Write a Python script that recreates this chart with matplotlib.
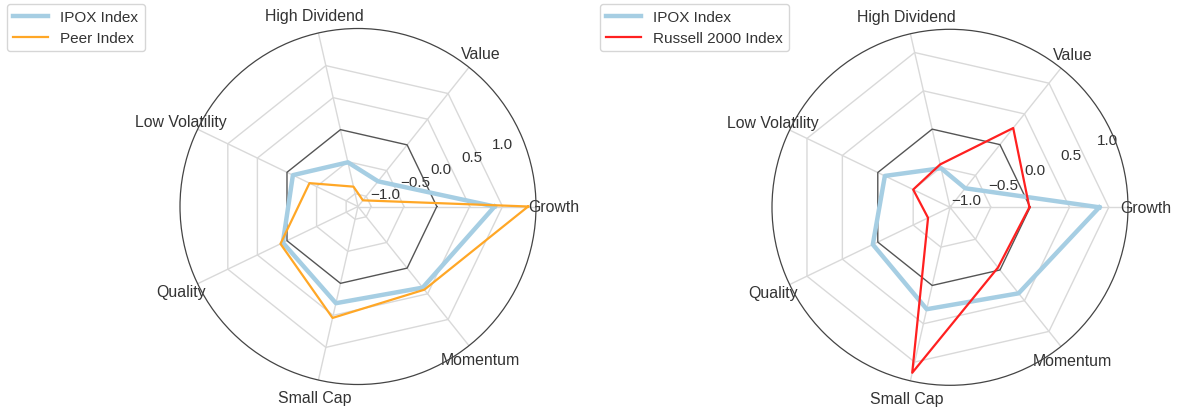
import numpy as np
import matplotlib
matplotlib.use("Agg")
import matplotlib.pyplot as plt

plt.rcParams['font.family'] = ['Liberation Sans', 'DejaVu Sans']

categories = ["Growth", "Value", "High Dividend", "Low Volatility", "Quality", "Small Cap", "Momentum"]
ipox = [0.88, -0.71, -0.51, -0.10, 0.07, 0.31, 0.38]
peer = [1.39, -1.08, -0.89, -0.38, 0.11, 0.54, 0.42]
russell = [-0.01, 0.27, -0.46, -0.50, -0.71, 1.14, -0.04]
rticks = [-1.0, -0.5, 0.0, 0.5, 1.0]
left_rlim = (-1.20, 1.51)
right_rlim = (-1.02, 1.245)

W, H = 1184, 410
fig = plt.figure(figsize=(W / 100, H / 100), dpi=100)

n = len(categories)
angles = np.linspace(0, 2 * np.pi, n, endpoint=False)
ang_c = np.concatenate([angles, angles[:1]])

def close(v):
    v = list(v)
    return v + v[:1]

def make_ax(cx, cy, r, rlim, series, legend_pos):
    rect = [(cx - r) / W, (H - cy - r) / H, 2 * r / W, 2 * r / H]
    ax = fig.add_axes(rect, projection='polar')
    ax.set_facecolor('white')
    ax.set_ylim(*rlim)
    ax.set_yticks(rticks)
    ax.set_yticklabels([f"{t:.1f}".replace('-', '\u2212') for t in rticks], fontsize=11, color='#333333')
    ax.yaxis.grid(False)
    ax.set_rlabel_position(22.5)
    ax.set_xticks(angles)
    ax.set_xticklabels(categories, fontsize=11.4, color='#333333')
    ax.tick_params(axis='x', pad=2.5)
    ax.xaxis.grid(True, color='#d9d9d9', lw=1)
    ax.spines['polar'].set_color('#444444')
    ax.spines['polar'].set_linewidth(0.9)
    for t in rticks:
        if t == 0.0:
            ax.plot(ang_c, close([t] * n), color='#555555', lw=1.0, zorder=2)
        else:
            ax.plot(ang_c, close([t] * n), color='#d9d9d9', lw=1.0, zorder=1)
    handles = []
    for name, vals, col, lw in series:
        h, = ax.plot(ang_c, close(vals), color=col, lw=lw, label=name, zorder=3)
        handles.append(h)
    ax.set_ylim(*rlim)
    leg = ax.legend(handles=handles, loc='upper left', bbox_to_anchor=legend_pos,
                    bbox_transform=fig.transFigure, fontsize=11, frameon=True,
                    fancybox=True, edgecolor='#cccccc', borderpad=0.4,
                    borderaxespad=0, handlelength=2.3, handletextpad=0.8,
                    labelspacing=0.45)
    for txt in leg.get_texts():
        txt.set_color('#333333')
    return ax

make_ax(358, 207.5, 178, left_rlim,
        [("IPOX Index", ipox, '#a6cee3', 3.2), ("Peer Index", peer, '#ffa726', 1.6)],
        (7 / W, 1 - 5 / H))
make_ax(950, 208.3, 178, right_rlim,
        [("IPOX Index", ipox, '#a6cee3', 3.2), ("Russell 2000 Index", russell, '#ff2020', 1.6)],
        (600 / W, 1 - 5 / H))

fig.savefig("out.png", dpi=100, facecolor='white')
